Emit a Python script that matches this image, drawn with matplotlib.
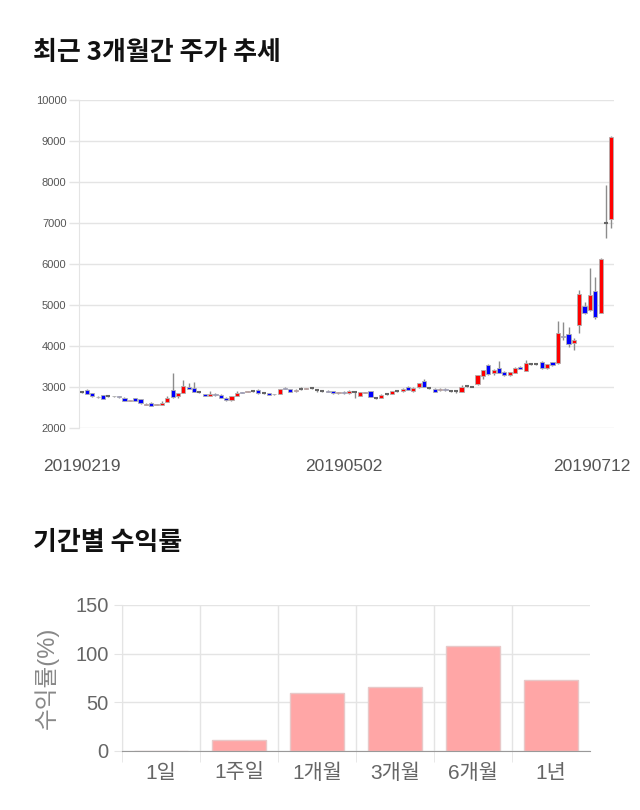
"""
Recent 3-month candlestick chart + period returns bar chart
"""
import matplotlib.pyplot as plt
from matplotlib.transforms import ScaledTranslation

# daily candles (2019-02-19 .. 2019-07-12)
opens = [2880, 2930, 2845, 2745, 2800, 2780, 2770, 2780, 2725, 2670,
         2720, 2700, 2570, 2620, 2560, 2570, 2640, 2930, 2780, 2860,
         2990, 2970, 2880, 2830, 2780, 2830, 2810, 2740, 2680, 2780,
         2880, 2890, 2900, 2930, 2860, 2845, 2825, 2830, 2975, 2950,
         2900, 2950, 2950, 2970, 2930, 2910, 2910, 2900, 2865, 2890,
         2850, 2880, 2780, 2865, 2895, 2730, 2730, 2830, 2830, 2895,
         2895, 3005, 2910, 2990, 3155, 2985, 2955, 2925, 2955, 2900,
         2895, 2890, 3020, 3010, 3070, 3270, 3545, 3340, 3455, 3360,
         3285, 3350, 3495, 3390, 3560, 3555, 3610, 3455, 3600, 3580,
         4250, 4290, 4070, 4510, 4980, 4880, 5340, 4810, 7010, 7100]
highs = [2900, 2950, 2860, 2775, 2810, 2800, 2790, 2790, 2750, 2695,
         2730, 2710, 2600, 2630, 2590, 2650, 2780, 3330, 2860, 3170,
         3090, 3110, 2900, 2840, 2900, 2850, 2820, 2750, 2790, 2900,
         2890, 2910, 2920, 2940, 2880, 2860, 2840, 2950, 2990, 2960,
         2950, 2990, 2980, 2990, 2950, 2930, 2920, 2910, 2880, 2900,
         2920, 2900, 2890, 2890, 2900, 2760, 2830, 2860, 2900, 2920,
         2970, 3020, 2990, 3100, 3190, 3000, 2970, 2980, 2965, 2910,
         2905, 3050, 3040, 3030, 3290, 3420, 3560, 3440, 3640, 3380,
         3370, 3480, 3520, 3650, 3580, 3570, 3630, 3560, 3620, 4600,
         4590, 4470, 4200, 5370, 5070, 5900, 5690, 6150, 7930, 9110]
lows = [2860, 2820, 2760, 2735, 2700, 2760, 2755, 2740, 2660, 2660,
        2660, 2590, 2560, 2530, 2550, 2560, 2630, 2740, 2740, 2850,
        2950, 2870, 2860, 2770, 2770, 2790, 2720, 2670, 2670, 2770,
        2850, 2880, 2880, 2840, 2820, 2800, 2810, 2820, 2940, 2870,
        2890, 2920, 2940, 2950, 2880, 2890, 2870, 2840, 2840, 2840,
        2840, 2730, 2770, 2850, 2760, 2710, 2720, 2800, 2820, 2880,
        2890, 2920, 2880, 2980, 3000, 2950, 2870, 2910, 2910, 2870,
        2860, 2880, 3000, 2990, 3050, 3200, 3300, 3300, 3340, 3270,
        3270, 3340, 3440, 3380, 3540, 3530, 3440, 3440, 3520, 3560,
        4150, 3980, 3900, 4310, 4780, 4860, 4650, 4800, 6630, 6870]
closes = [2880, 2830, 2770, 2765, 2710, 2780, 2785, 2750, 2670, 2690,
          2665, 2600, 2590, 2540, 2580, 2620, 2740, 2750, 2850, 3020,
          2960, 2880, 2880, 2780, 2840, 2800, 2730, 2680, 2780, 2860,
          2860, 2900, 2900, 2850, 2860, 2810, 2835, 2940, 2945, 2885,
          2920, 2950, 2965, 2970, 2930, 2910, 2890, 2860, 2875, 2850,
          2910, 2880, 2880, 2875, 2765, 2730, 2810, 2830, 2895, 2895,
          2955, 2930, 2975, 3090, 3010, 2985, 2880, 2960, 2915, 2900,
          2895, 2990, 3020, 3010, 3285, 3410, 3310, 3425, 3350, 3285,
          3360, 3470, 3445, 3580, 3560, 3555, 3460, 3550, 3540, 4310,
          4220, 4050, 4150, 5260, 4810, 5240, 4710, 6130, 7010, 9100]
date_idx = [0, 49, 99]
date_labels = ["20190219", "20190502", "20190712"]

# period returns
periods = ["1일", "1주일", "1개월", "3개월", "6개월", "1년"]
returns = [0, 11.2, 59.3, 65.5, 107.4, 72.6]

plt.rcParams["font.family"] = ["Liberation Sans", "Noto Sans CJK KR", "DejaVu Sans"]
GRID = "#e4e4e4"
TXT = "#666666"

fig = plt.figure(figsize=(6.4, 8.1), dpi=100)

fig.text(33 / 640, 1 - 52 / 810, "최근 3개월간 주가 추세", fontsize=18.7, fontweight="bold",
         family=["Noto Sans CJK KR"], va="center", ha="left", color="#111111")
fig.text(33 / 640, 1 - 543 / 810, "기간별 수익률", fontsize=18.7, fontweight="bold",
         family=["Noto Sans CJK KR"], va="center", ha="left", color="#111111")

# ---- candlestick chart ----
ax = fig.add_axes([79 / 640, 1 - 428 / 810, 535 / 640, 328 / 810])
xs = list(range(len(opens)))
ax.vlines(xs, lows, highs, color="#8c8c8c", linewidth=1, zorder=2)
for i in xs:
    o, c = opens[i], closes[i]
    if c == o:
        ax.hlines(o, i - 0.38, i + 0.38, color="#666666", linewidth=1.5, zorder=3)
        continue
    col = "#ff0000" if c > o else "#0000ff"
    ax.bar(i, abs(c - o), bottom=min(o, c), width=0.78, color=col,
           edgecolor="#b0b0b0", linewidth=0.6, zorder=3)

ax.set_xlim(-0.5, 99.5)
ax.set_ylim(2000, 10000)
ax.set_yticks(range(2000, 10001, 1000))
ax.tick_params(axis="y", labelsize=8, colors=GRID, labelcolor="#555555", length=7, width=1, pad=2)
ax.set_xticks(date_idx)
ax.set_xticklabels(date_labels, fontsize=12.5, color="#555555")
ax.tick_params(axis="x", length=0, pad=22)
ax.xaxis.get_majorticklabels()[-1].set_transform(
    ax.xaxis.get_majorticklabels()[-1].get_transform()
    + ScaledTranslation(-0.2, 0, fig.dpi_scale_trans))
ax.grid(axis="y", color=GRID, linewidth=1)
ax.set_axisbelow(True)
for s in ["top", "right", "bottom"]:
    ax.spines[s].set_visible(False)
ax.spines["left"].set_color(GRID)

# ---- returns bar chart ----
bx = fig.add_axes([122 / 640, 1 - 751 / 810, 468 / 640, 146 / 810])
pos = list(range(len(periods)))
bx.bar(pos, returns, width=0.7, color="#ffa6a6", edgecolor="#e8c8c8", linewidth=1, zorder=2)
bx.set_xlim(-0.5, 5.5)
bx.set_ylim(0, 150)
bx.set_yticks([0, 50, 100, 150])
bx.set_xticks(pos)
bx.set_xticklabels(periods)
bx.set_xticks([p - 0.5 for p in pos], minor=True)
bx.tick_params(axis="x", which="major", length=0, labelsize=15, labelcolor=TXT, pad=9)
bx.tick_params(axis="x", which="minor", length=8, color=GRID)
bx.tick_params(axis="y", labelsize=14.5, labelcolor=TXT, color=GRID, length=6)
bx.grid(axis="y", color=GRID, linewidth=1)
bx.grid(axis="x", which="minor", color=GRID, linewidth=1)
bx.set_axisbelow(True)
bx.set_ylabel("수익률(%)", fontsize=17, color="#888888", labelpad=12)
for s in ["top", "right"]:
    bx.spines[s].set_visible(False)
bx.spines["left"].set_color(GRID)
bx.spines["bottom"].set_color("#999999")
bx.spines["bottom"].set_zorder(4)

plt.savefig("out.png", dpi=100)
